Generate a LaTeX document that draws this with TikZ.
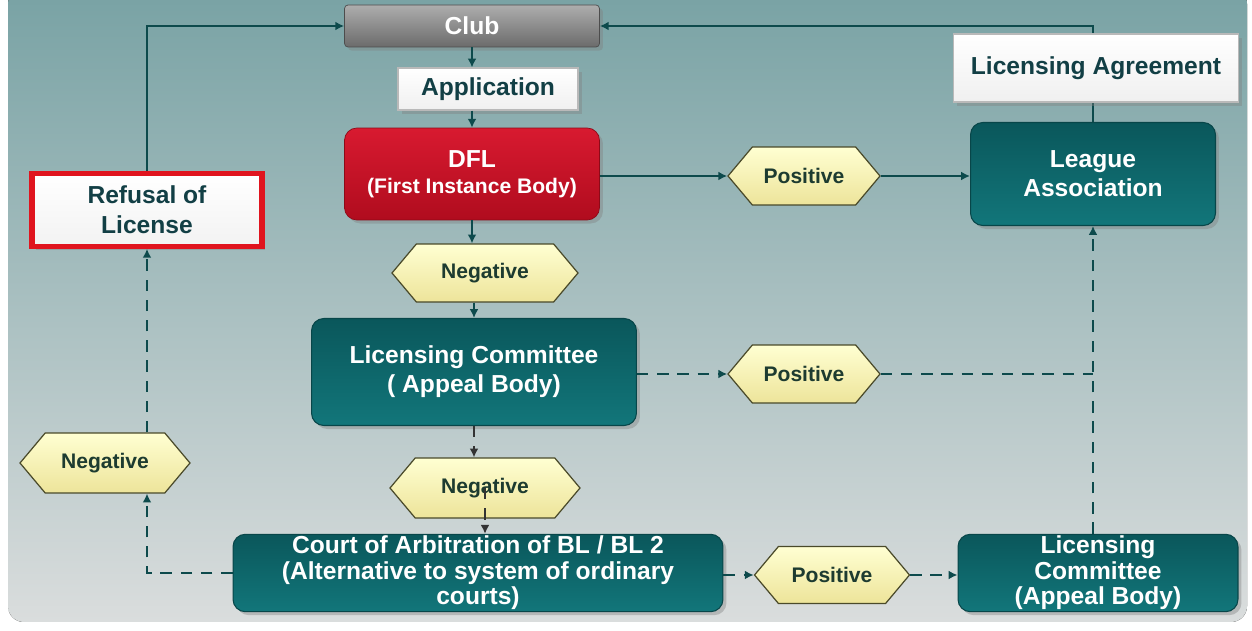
\documentclass[tikz,border=0pt]{standalone}
\usepackage{fontspec}
\setmainfont{Liberation Sans}
\usepackage{tikz}
\usetikzlibrary{arrows.meta,positioning,calc,shapes.symbols,shadows}
\definecolor{cInk}{HTML}{123F45}
\definecolor{cLine}{HTML}{0D4A4C}
\definecolor{cTealTop}{HTML}{0A575B}
\definecolor{cTealBot}{HTML}{12767A}
\definecolor{cRedTop}{HTML}{D81A30}
\definecolor{cRedBot}{HTML}{B00C1E}
\definecolor{cRed}{HTML}{E0141E}
\definecolor{cLeaf}{HTML}{1D3B30}
\definecolor{cHexTop}{HTML}{FFFFD2}
\definecolor{cHexBot}{HTML}{EDE49A}
\definecolor{cHexEdge}{HTML}{4A4A2A}
\definecolor{bgTop}{HTML}{78A2A4}
\definecolor{bgMid}{HTML}{A9BCBD}
\definecolor{bgBot}{HTML}{DADDDD}
\tikzset{
  shd/.style={drop shadow={opacity=0.4,shadow xshift=2pt,shadow yshift=-2pt}},
  tbox/.style={shd,draw=cTealTop!80!black,top color=cTealTop,bottom color=cTealBot,rounded corners=7pt,line width=0.6pt,
    align=center,font=\bfseries\fontsize{14}{16.5}\selectfont,text=white,inner sep=1pt},
  wbox/.style={shd,draw=gray!55,top color=white,bottom color=gray!12,line width=0.6pt,align=center,
    font=\bfseries\fontsize{14}{16}\selectfont,text=cInk,inner sep=2pt,minimum height=0.84cm},
  hexa/.style={shape=signal,signal to=west and east,signal pointer angle=100,draw=cHexEdge,line width=0.7pt,
    top color=cHexTop,bottom color=cHexBot,font=\bfseries\fontsize{12}{14}\selectfont,text=cLeaf,inner sep=1pt,
    minimum height=1.16cm},
  arr/.style={-{Latex[length=5pt,width=5pt]},line width=1.5pt,color=cLine},
  darr/.style={arr,dash pattern=on 6.5pt off 5pt},
  dline/.style={line width=1.5pt,color=cLine,dash pattern=on 6.5pt off 5pt},
}
\begin{document}
\begin{tikzpicture}[x=0.02cm,y=-0.02cm]
    \useasboundingbox (0,0) rectangle (1252,631);
    \fill[white] (0,0) rectangle (1252,631);
    \fill[top color=bgTop,middle color=bgMid,bottom color=bgBot,rounded corners=9pt] (8,-12) rectangle (1247,622);
    % top row
    \node[shd,draw=black!70,top color=black!32,bottom color=black!58,rounded corners=2pt,minimum width=5.1cm,minimum height=0.84cm,
      font=\bfseries\fontsize{14}{16}\selectfont,text=white] (club) at (472,26) {Club};
    \node[wbox,minimum width=3.6cm] (appl) at (488,89) {Application};
    \node[shd,draw=cRedBot!80!black,top color=cRedTop,bottom color=cRedBot,rounded corners=7pt,minimum width=5.1cm,minimum height=1.84cm,
      align=center,text=white,inner sep=1pt] (dfl) at (472,174) {{\bfseries\fontsize{14}{17}\selectfont DFL}\\[3pt]{\bfseries\fontsize{12}{14}\selectfont (First Instance Body)}};
    \node[hexa,minimum width=3.04cm] (pos1) at (804,176) {Positive};
    \node[tbox,minimum width=4.9cm,minimum height=2.06cm] (league) at (1093,174) {League\\Association};
    \node[shd,draw=cRed,line width=3pt,top color=white,bottom color=gray!10,align=center,minimum width=4.6cm,minimum height=1.45cm,
      font=\bfseries\fontsize{14}{17}\selectfont,text=cInk,inner sep=1pt] (refusal) at (147,210) {Refusal of\\License};
    % appeal level
    \node[hexa,minimum width=3.72cm] (neg1) at (485,273) {Negative};
    \node[tbox,minimum width=6.5cm,minimum height=2.14cm] (lc) at (474,372) {Licensing Committee\\( Appeal Body)};
    \node[hexa,minimum width=3.04cm] (pos2) at (804,374) {Positive};
    \node[hexa,minimum width=3.4cm,minimum height=1.2cm] (negL) at (105,463) {Negative};
    \node[hexa,minimum width=3.8cm,minimum height=1.2cm] (neg2) at (485,488) {Negative};
    % court level
    \node[tbox,minimum width=9.8cm,minimum height=1.5cm,font=\bfseries\fontsize{14}{14.5}\selectfont] (court) at (478,573)
      {Court of Arbitration of BL / BL 2\\(Alternative to system of ordinary\\courts)};
    \node[hexa,minimum width=3.1cm,minimum height=1.14cm] (pos3) at (832,575) {Positive};
    \node[tbox,minimum width=5.6cm,minimum height=1.54cm,font=\bfseries\fontsize{14}{14.5}\selectfont] (rlc) at (1098,573)
      {Licensing\\Committee\\(Appeal Body)};
    % solid flow
    \draw[arr] (club.south) -- (club.south |- appl.north);
    \draw[arr] (dfl.north |- appl.south) -- (dfl.north);
    \draw[arr] (dfl.south) -- (dfl.south |- neg1.north);
    \draw[arr] (lc.north |- neg1.south) -- (lc.north);
    \draw[arr] (dfl.east |- pos1.west) -- (pos1.west);
    \draw[arr] (pos1.east) -- (league.west |- pos1.east);
    \draw[arr] (league.north) |- (club.east);
    \draw[arr] (refusal.north) |- (club.west);
    \node[wbox,minimum width=5.7cm,minimum height=1.36cm] (agree) at (1096,68) {Licensing Agreement};
    % dashed flow
    \draw[darr] (lc.east |- pos2.west) -- (pos2.west);
    \draw[dline] (pos2.east) -- (league.south |- pos2.east);
    \draw[darr] (league.south |- rlc.north) -- (league.south);
    \draw[darr,line width=0.9pt,color=black!80] (lc.south) -- (lc.south |- neg2.north);
    \draw[darr,line width=0.9pt,color=black!80] (neg2.center) -- (neg2.center |- court.north);
    \draw[darr] (court.west) -| (refusal.south |- negL.south);
    \draw[darr] (refusal.south |- negL.north) -- (refusal.south);
    \draw[darr] (court.east |- pos3.west) -- (pos3.west);
    \draw[darr] (pos3.east) -- (rlc.west |- pos3.east);
\end{tikzpicture}
\end{document}
